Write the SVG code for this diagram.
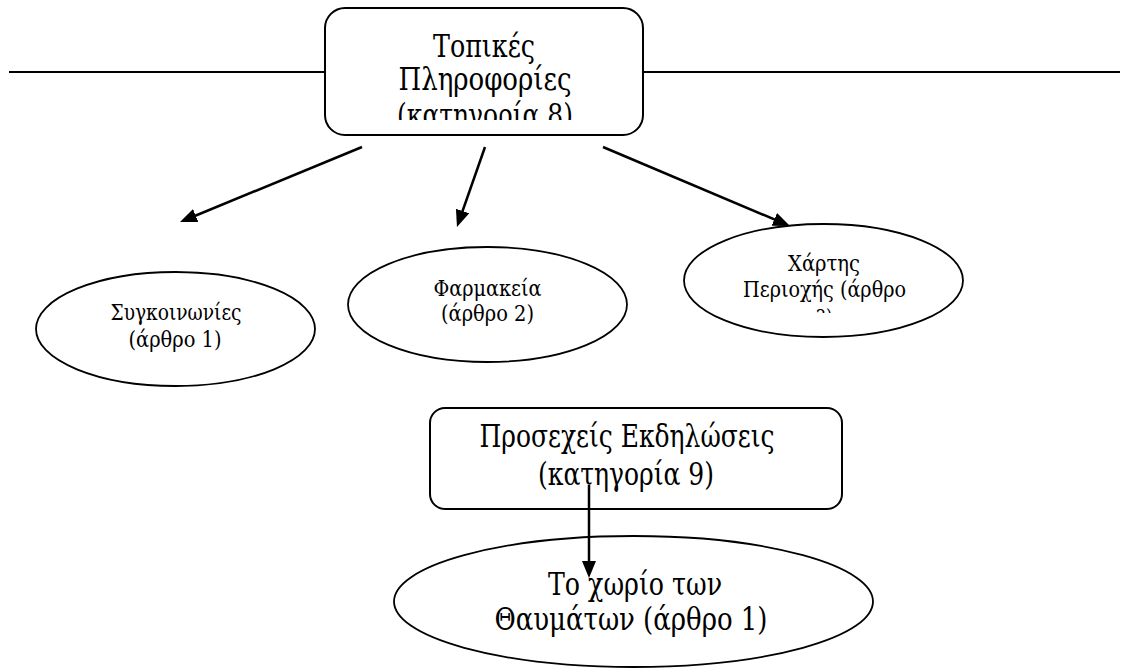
<svg xmlns="http://www.w3.org/2000/svg" width="1122" height="668" viewBox="0 0 1122 668" font-family="'DejaVu Serif Condensed', 'DejaVu Serif', 'Liberation Serif', serif">
  <style>
    .box { fill: #ffffff; stroke: #000000; stroke-width: 2; }
    .oval { fill: #ffffff; stroke: #000000; stroke-width: 1.8; }
    .rule { stroke: #000000; stroke-width: 2.2; }
    .edge { stroke: #000000; stroke-width: 2.5; fill: none; marker-end: url(#head); }
    .lbl { fill: #000000; text-anchor: middle; }
    .big { font-size: 31px; }
    .small { font-size: 22px; }
  </style>
  <defs>
    <marker id="head" markerUnits="userSpaceOnUse" markerWidth="18" markerHeight="15" refX="9" refY="7" orient="auto">
      <path d="M0,0 L17,7 L0,14 Z" fill="#000000"/>
    </marker>
    <clipPath id="clipTop"><rect x="330" y="12" width="308" height="108"/></clipPath>
    <clipPath id="clipMap"><rect x="690" y="230" width="270" height="83"/></clipPath>
  </defs>

  <!-- horizontal rule running behind the top box -->
  <g id="rule">
    <line class="rule" x1="9" y1="72" x2="1120" y2="72"/>
  </g>

  <g id="connectors">
    <line class="edge" x1="362" y1="147" x2="187.4" y2="219"/>
    <line class="edge" x1="485" y1="147" x2="459.6" y2="219.5"/>
    <line class="edge" x1="603" y1="147" x2="782.6" y2="222.9"/>
  </g>

  <g id="topiki">
    <rect class="box" x="325" y="8" width="318" height="127" rx="20" ry="20"/>
    <g clip-path="url(#clipTop)">
      <text class="lbl big" x="484" y="57" textLength="102" lengthAdjust="spacingAndGlyphs">Τοπικές</text>
      <text class="lbl big" x="485" y="90" textLength="173" lengthAdjust="spacingAndGlyphs">Πληροφορίες</text>
      <text class="lbl big" x="485" y="126" textLength="176" lengthAdjust="spacingAndGlyphs">(κατηγορία 8)</text>
    </g>
  </g>

  <g id="sygkoinonies">
    <ellipse class="oval" cx="175.5" cy="329" rx="139.5" ry="57"/>
    <text class="lbl small" x="176" y="320" textLength="131" lengthAdjust="spacingAndGlyphs">Συγκοινωνίες</text>
    <text class="lbl small" x="175" y="347" textLength="93" lengthAdjust="spacingAndGlyphs">(άρθρο 1)</text>
  </g>

  <g id="farmakeia">
    <ellipse class="oval" cx="487.5" cy="304.5" rx="139.5" ry="57.5"/>
    <text class="lbl small" x="487.5" y="296" textLength="108" lengthAdjust="spacingAndGlyphs">Φαρμακεία</text>
    <text class="lbl small" x="487.5" y="321" textLength="93" lengthAdjust="spacingAndGlyphs">(άρθρο 2)</text>
  </g>

  <g id="chartis">
    <ellipse class="oval" cx="823.5" cy="280.5" rx="139.5" ry="56.5"/>
    <g clip-path="url(#clipMap)">
      <text class="lbl small" x="824" y="271" textLength="72" lengthAdjust="spacingAndGlyphs">Χάρτης</text>
      <text class="lbl small" x="824.5" y="297" textLength="163" lengthAdjust="spacingAndGlyphs">Περιοχής (άρθρο</text>
      <text class="lbl small" x="824" y="325" textLength="17" lengthAdjust="spacingAndGlyphs">3)</text>
    </g>
  </g>

  <g id="ekdiloseis">
    <rect class="box" x="430" y="408" width="412" height="101" rx="15" ry="15"/>
    <text class="lbl big" x="627" y="447" textLength="295" lengthAdjust="spacingAndGlyphs">Προσεχείς Εκδηλώσεις</text>
    <text class="lbl big" x="626" y="485" textLength="176" lengthAdjust="spacingAndGlyphs">(κατηγορία 9)</text>
  </g>

  <g id="thaumata">
    <ellipse class="oval" cx="633.5" cy="601.5" rx="239.5" ry="65.5"/>
    <text class="lbl big" x="635" y="595" textLength="174" lengthAdjust="spacingAndGlyphs">Το χωρίο των</text>
    <text class="lbl big" x="631" y="630" textLength="273" lengthAdjust="spacingAndGlyphs">Θαυμάτων (άρθρο 1)</text>
  </g>

  <g id="connectors-lower">
    <line class="edge" x1="589" y1="485" x2="589" y2="570"/>
  </g>
</svg>
